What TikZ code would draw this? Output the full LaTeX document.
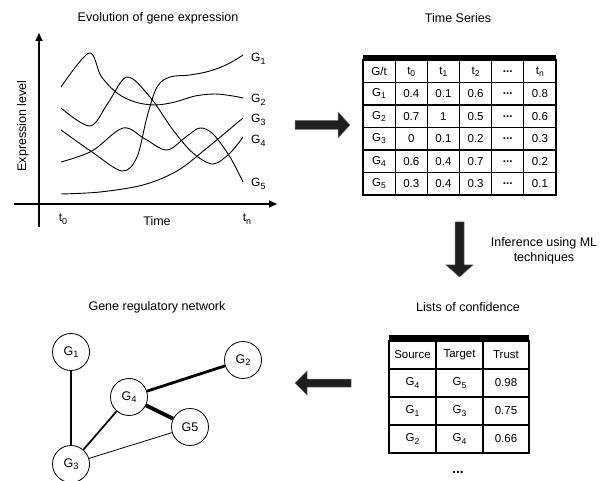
\documentclass[tikz,border=0pt]{standalone}
\usepackage{fontspec}
\setmainfont{Liberation Sans}
\usetikzlibrary{arrows.meta}
\tikzset{
 title/.style={font=\fontsize{12.5}{15}\selectfont, inner sep=0pt},
 lbl/.style={font=\fontsize{12}{14}\selectfont, inner sep=0pt},
 cell/.style={font=\fontsize{11.5}{14}\selectfont, inner sep=0pt},
 curve/.style={line width=0.9pt, smooth, tension=0.55},
 axis/.style={line width=1.6pt, -{Triangle[length=8pt,width=7pt]}},
 gnode/.style={circle, draw, line width=0.8pt, minimum size=37pt, inner sep=0pt, font=\fontsize{12.5}{14}\selectfont},
 blockarrow/.style={fill=black!88, draw=black!55, line width=0.5pt},
 tline/.style={line width=1.2pt},
 touter/.style={line width=1.6pt},
}
\newcommand\sbs[1]{\raisebox{-0.35ex}{\scalebox{0.74}{#1}}}
\begin{document}
\begin{tikzpicture}[x=1pt,y=-1pt]
\useasboundingbox (0,0) rectangle (608,481);

% ---------- plot ----------
\node[title] (tplot) at (158,18) {Evolution of gene expression};
\draw[axis] (39,227) -- (39,33);
\draw[axis] (14,204) -- (277,204);
\node[title, rotate=90] (ylab) at (23,126) {Expression level};
\node[title] (xlab) at (157,221) {Time};
\node[lbl, anchor=base] (t0) at (63,222) {t\sbs{0}};
\node[lbl, anchor=base] (tn) at (247,222) {t\sbs{n}};

% G2
\draw[curve] plot coordinates {(61,87) (89,53) (101,76) (117,93) (135,102) (155,105) (175,102) (195,96) (215,94) (233,96) (243,98)};
% G4
\draw[curve] plot coordinates {(61,108) (90,126) (108,103) (127,77) (150,97) (173,130) (193,153) (213,164) (230,153) (243,137)};
% G1
\draw[curve] plot coordinates {(61,130) (92,152) (122,171) (137,157) (147,117) (157,87) (170,77) (190,75) (210,71) (228,64) (243,55)};
% G5
\draw[curve] plot coordinates {(61,162) (92,151) (123,128) (145,139) (167,150) (187,136) (200,128) (213,134) (230,157) (243,182)};
% G3
\draw[curve] plot coordinates {(61,194) (100,192) (143,185) (177,171) (207,148) (243,118)};

\node[lbl, anchor=base west] (lg1) at (251,62) {G\sbs{1}};
\node[lbl, anchor=base west] (lg2) at (251,103) {G\sbs{2}};
\node[lbl, anchor=base west] (lg3) at (251,123) {G\sbs{3}};
\node[lbl, anchor=base west] (lg4) at (251,144) {G\sbs{4}};
\node[lbl, anchor=base west] (lg5) at (251,187) {G\sbs{5}};

% ---------- arrows ----------
\fill[blockarrow] (295,120.5) -- (338,120.5) -- (338,112) -- (350,125) -- (338,138) -- (338,129.5) -- (295,129.5) -- cycle;
\fill[blockarrow] (455,222) -- (464,222) -- (464,265) -- (473,265) -- (459.5,277) -- (446,265) -- (455,265) -- cycle;
\fill[blockarrow] (351,379) -- (307,379) -- (307,371) -- (295,383) -- (307,395) -- (307,387) -- (351,387) -- cycle;
\node[title, align=center] (inf) at (544,251) {Inference using ML\\techniques};

% ---------- time series table ----------
\node[title] (tts) at (458,18) {Time Series};
\fill (363,55) rectangle (556,60.5);
\foreach \y in {82.5,105,127.5,150,172.5} \draw[tline] (363,\y) -- (556,\y);
\foreach \x in {395.2,427.3,459.5,491.7,523.8} \draw[tline] (\x,60) -- (\x,195);
\draw[touter] (363,60) rectangle (556,195);
\foreach \t [count=\j from 0] in {G/t,t\sbs{0},t\sbs{1},t\sbs{2},\textbf{...},t\sbs{n}}
  \node[cell] (ts-0-\j) at ({363+32.17*(\j+0.5)},71.5) {\t};
\foreach \i/\a/\b/\c/\e in {1/0.4/0.1/0.6/0.8, 2/0.7/1/0.5/0.6, 3/0/0.1/0.2/0.3, 4/0.6/0.4/0.7/0.2, 5/0.3/0.4/0.3/0.1}{
  \node[cell] (ts-\i-0) at ({363+32.17*0.5},{60+22.5*(\i+0.5)}) {G\sbs{\i}};
  \node[cell] (ts-\i-1) at ({363+32.17*1.5},{60+22.5*(\i+0.5)}) {\a};
  \node[cell] (ts-\i-2) at ({363+32.17*2.5},{60+22.5*(\i+0.5)}) {\b};
  \node[cell] (ts-\i-3) at ({363+32.17*3.5},{60+22.5*(\i+0.5)}) {\c};
  \node[cell] (ts-\i-4) at ({363+32.17*4.5},{60+22.5*(\i+0.5)}) {\textbf{...}};
  \node[cell] (ts-\i-5) at ({363+32.17*5.5},{60+22.5*(\i+0.5)}) {\e};
}

% ---------- confidence table ----------
\node[title] (tconf) at (468,307) {Lists of confidence};
\fill (389,335) rectangle (529,341);
\foreach \y in {369,397,425} \draw[tline] (389,\y) -- (529,\y);
\foreach \x in {436,483} \draw[tline] (\x,341) -- (\x,453);
\draw[touter] (389,341) rectangle (529,453);
\node[cell] (cf-0-0) at (412.5,355) {Source};
\node[cell] (cf-0-1) at (459.5,355) {Target};
\node[cell] (cf-0-2) at (506,355) {Trust};
\foreach \i/\s/\t/\v in {1/4/5/0.98, 2/1/3/0.75, 3/2/4/0.66}{
  \node[cell] (cf-\i-0) at (412.5,{355+28*\i}) {G\sbs{\s}};
  \node[cell] (cf-\i-1) at (459.5,{355+28*\i}) {G\sbs{\t}};
  \node[cell] (cf-\i-2) at (506,{355+28*\i}) {\v};
}
\node[font=\fontsize{14}{16}\selectfont\bfseries, inner sep=0pt] (cfdots) at (458,472) {...};

% ---------- network ----------
\node[title] (tnet) at (157,307) {Gene regulatory network};
\node[gnode] (n1) at (71,352) {G\sbs{1}};
\node[gnode] (n2) at (243,360) {G\sbs{2}};
\node[gnode] (n4) at (129,397) {G\sbs{4}};
\node[gnode] (n5) at (190,427) {G5};
\node[gnode] (n3) at (71,464) {G\sbs{3}};
\draw[line width=2.8pt] (n1) -- (n3);
\draw[line width=2.8pt] (n4) -- (n2);
\draw[line width=3.8pt] (n4) -- (n5);
\draw[line width=1.7pt] (n3) -- (n4);
\draw[line width=0.8pt] (n3) -- (n5);
\end{tikzpicture}
\end{document}
